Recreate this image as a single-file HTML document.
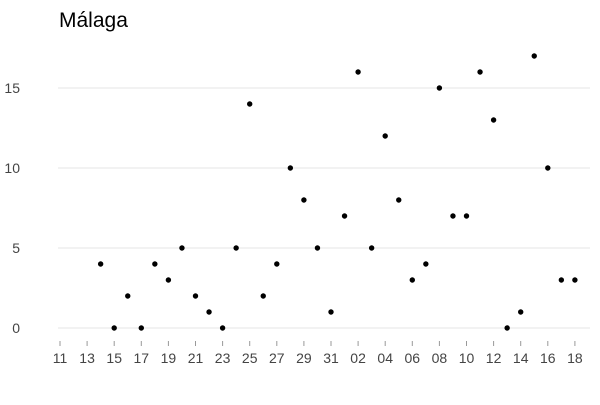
<!DOCTYPE html>
<html><head><meta charset="utf-8"><style>
body{margin:0;background:#fff}
text{font-family:"Liberation Sans",sans-serif;fill:#444}
</style></head><body>
<svg id="c" width="600" height="400">
<text x="59" y="27" style="font-size:21px;fill:#000">Málaga</text>
</svg>
<script>
const yTicks=[0,5,10,15];
const xTickLabels=["11","13","15","17","19","21","23","25","27","29","31","02","04","06","08","10","12","14","16","18"];
const values=[4,0,2,0,4,3,5,2,1,0,5,14,2,4,10,8,5,1,7,16,5,12,8,3,4,15,7,7,16,13,0,1,17,10,3,3];
const firstDay=3; // index offset: day 14 relative to tick 11
const svg=document.getElementById('c');
const NS='http://www.w3.org/2000/svg';
const x=i=>60+i*13.55;
const y=v=>328-v*16;
function mk(t,a){const e=document.createElementNS(NS,t);for(const k in a)e.setAttribute(k,a[k]);svg.appendChild(e);return e;}
yTicks.forEach(v=>{
 const l=mk('line',{x1:58,x2:590,y1:y(v),y2:y(v),stroke:'#ebebeb','stroke-width':1.2});
 
 
 const t=mk('text',{x:20,y:y(v)+5,'text-anchor':'end','font-size':14});
 
 
 t.textContent=v;
});
xTickLabels.forEach((s,i)=>{
 const px=x(i*2);
 const l=mk('line',{x1:px,x2:px,y1:341,y2:346,stroke:'#999','stroke-width':1});
 
 
 const t=mk('text',{x:px,y:363,'text-anchor':'middle','font-size':14});
 
 
 t.textContent=s;
});
values.forEach((v,i)=>{
 const c=mk('circle',{cx:x(i+firstDay),cy:y(v),r:2.7,fill:'#000'});
 
 
});
</script>
</body></html>
